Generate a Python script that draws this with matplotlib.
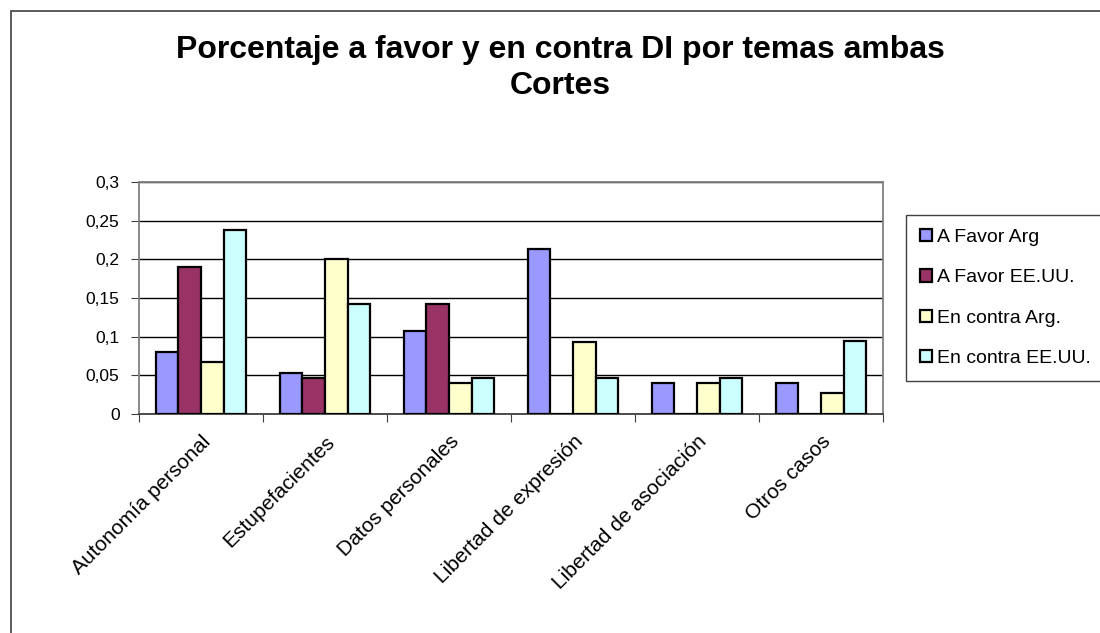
import numpy as np
import matplotlib
matplotlib.use('Agg')
import matplotlib.pyplot as plt
from matplotlib.patches import Rectangle
from matplotlib.ticker import FixedLocator, FuncFormatter

plt.rcParams['font.family'] = ['Liberation Sans', 'DejaVu Sans']

# Data
temas = ['Autonomía personal', 'Estupefacientes', 'Datos personales',
         'Libertad de expresión', 'Libertad de asociación', 'Otros casos']
a_favor_arg = [0.080, 0.053, 0.107, 0.213, 0.040, 0.040]
a_favor_eeuu = [0.190, 0.047, 0.142, 0.0, 0.0, 0.0]
en_contra_arg = [0.067, 0.200, 0.040, 0.093, 0.040, 0.027]
en_contra_eeuu = [0.238, 0.142, 0.047, 0.047, 0.047, 0.095]

series_names = ['A Favor Arg', 'A Favor EE.UU.', 'En contra Arg.', 'En contra EE.UU.']
series_colors = ['#9999FF', '#993366', '#FFFFCC', '#CCFFFF']
series = [a_favor_arg, a_favor_eeuu, en_contra_arg, en_contra_eeuu]

fig = plt.figure(figsize=(11, 6.33), dpi=100)

# Outer chart border
fig.patches.append(Rectangle((11 / 1100, -0.05), 1.05, 1 - 11 / 633 + 0.05,
                             transform=fig.transFigure, fill=False,
                             edgecolor='#404040', linewidth=1.2))

ax = fig.add_axes([139 / 1100, 1 - 414 / 633, 744 / 1100, 232 / 633])

x = np.arange(len(temas))
bar_w = 1 / 5.5
for i, (vals, name, col) in enumerate(zip(series, series_names, series_colors)):
    ax.bar(x + (i - 1.5) * bar_w, vals, width=bar_w, color=col,
           edgecolor='black', linewidth=1.6, label=name, zorder=3)

ax.set_xlim(-0.5, len(temas) - 0.5)
ax.set_ylim(0, 0.3)
ax.set_yticks(np.arange(0, 0.301, 0.05))
ax.yaxis.set_major_formatter(FuncFormatter(lambda v, p: ('%g' % round(v, 2)).replace('.', ',')))
ax.grid(axis='y', color='black', linewidth=1.0, zorder=0)

# Category ticks sit between groups, labels at group centres
ax.xaxis.set_major_locator(FixedLocator(np.arange(-0.5, len(temas), 1.0)))
ax.xaxis.set_major_formatter(FuncFormatter(lambda v, p: ''))
ax.xaxis.set_minor_locator(FixedLocator(x))
ax.set_xticklabels(temas, minor=True, rotation=45, ha='right', va='top',
                   rotation_mode='anchor', fontsize=15)
ax.tick_params(axis='x', which='minor', length=0, pad=13)
ax.tick_params(axis='x', which='major', length=6, color='#404040')
ax.tick_params(axis='y', length=6, color='#404040', labelsize=12.5, pad=8)

for s in ax.spines.values():
    s.set_color('#808080')
    s.set_linewidth(1.3)
ax.spines['bottom'].set_color('#404040')

fig.text(560 / 1100, 1 - 68 / 633,
         'Porcentaje a favor y en contra DI por temas ambas\nCortes',
         ha='center', va='center', fontsize=23, fontweight='bold',
         linespacing=1.25)

leg = ax.legend(loc='upper left', bbox_to_anchor=(906 / 1100, 1 - 215 / 633, 0.3, 0),
                bbox_transform=fig.transFigure, fontsize=14, frameon=True,
                fancybox=False, edgecolor='#404040', framealpha=1,
                handlelength=0.6, handleheight=0.6, handletextpad=0.25,
                labelspacing=1.2, borderpad=0.72, borderaxespad=0)
leg.get_frame().set_linewidth(1.0)

fig.savefig('out.png', dpi=100)
